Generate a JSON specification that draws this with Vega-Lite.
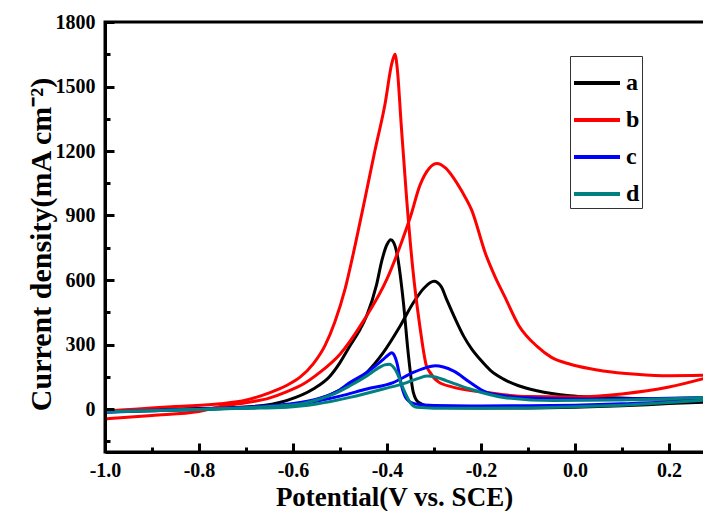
{
  "$schema": "https://vega.github.io/schema/vega-lite/v6.json",
  "width": 600,
  "height": 430,
  "autosize": {"type": "none"},
  "padding": {"left": 105, "top": 22, "right": 0, "bottom": 59},
  "background": "white",
  "config": {
    "view": {"stroke": "black", "strokeWidth": 3},
    "font": "Liberation Serif"
  },
  "datasets": {
    "cv": [
      {"s":"a","b":"f","x":-1.0,"y":-12},{"s":"a","b":"f","x":-0.9,"y":-6},{"s":"a","b":"f","x":-0.8,"y":0},{"s":"a","b":"f","x":-0.7,"y":6},{"s":"a","b":"f","x":-0.65,"y":12},{"s":"a","b":"f","x":-0.6,"y":22},{"s":"a","b":"f","x":-0.55,"y":42},{"s":"a","b":"f","x":-0.5,"y":88},{"s":"a","b":"f","x":-0.443,"y":170},{"s":"a","b":"f","x":-0.408,"y":262},{"s":"a","b":"f","x":-0.372,"y":386},{"s":"a","b":"f","x":-0.344,"y":494},{"s":"a","b":"f","x":-0.32,"y":565},{"s":"a","b":"f","x":-0.3,"y":594},{"s":"a","b":"f","x":-0.285,"y":570},{"s":"a","b":"f","x":-0.273,"y":509},{"s":"a","b":"f","x":-0.255,"y":420},{"s":"a","b":"f","x":-0.237,"y":339},{"s":"a","b":"f","x":-0.22,"y":280},{"s":"a","b":"f","x":-0.202,"y":231},{"s":"a","b":"f","x":-0.18,"y":180},{"s":"a","b":"f","x":-0.152,"y":139},{"s":"a","b":"f","x":-0.12,"y":108},{"s":"a","b":"f","x":-0.081,"y":85},{"s":"a","b":"f","x":-0.011,"y":62},{"s":"a","b":"f","x":0.05,"y":55},{"s":"a","b":"f","x":0.15,"y":48},{"s":"a","b":"f","x":0.28,"y":45},
      {"s":"a","b":"r","x":0.28,"y":32},{"s":"a","b":"r","x":0.2,"y":25},{"s":"a","b":"r","x":0.1,"y":15},{"s":"a","b":"r","x":0.0,"y":8},{"s":"a","b":"r","x":-0.1,"y":5},{"s":"a","b":"r","x":-0.2,"y":5},{"s":"a","b":"r","x":-0.3,"y":8},{"s":"a","b":"r","x":-0.333,"y":31},{"s":"a","b":"r","x":-0.344,"y":77},{"s":"a","b":"r","x":-0.355,"y":262},{"s":"a","b":"r","x":-0.365,"y":494},{"s":"a","b":"r","x":-0.379,"y":725},{"s":"a","b":"r","x":-0.386,"y":775},{"s":"a","b":"r","x":-0.392,"y":787},{"s":"a","b":"r","x":-0.4,"y":765},{"s":"a","b":"r","x":-0.411,"y":690},{"s":"a","b":"r","x":-0.422,"y":580},{"s":"a","b":"r","x":-0.443,"y":435},{"s":"a","b":"r","x":-0.46,"y":360},{"s":"a","b":"r","x":-0.479,"y":293},{"s":"a","b":"r","x":-0.5,"y":216},{"s":"a","b":"r","x":-0.521,"y":154},{"s":"a","b":"r","x":-0.557,"y":93},{"s":"a","b":"r","x":-0.614,"y":39},{"s":"a","b":"r","x":-0.685,"y":12},{"s":"a","b":"r","x":-0.8,"y":2},{"s":"a","b":"r","x":-0.9,"y":-4},{"s":"a","b":"r","x":-1.0,"y":-8},
      {"s":"b","b":"f","x":-1.0,"y":-46},{"s":"b","b":"f","x":-0.9,"y":-30},{"s":"b","b":"f","x":-0.8,"y":-12},{"s":"b","b":"f","x":-0.755,"y":12},{"s":"b","b":"f","x":-0.72,"y":23},{"s":"b","b":"f","x":-0.649,"y":52},{"s":"b","b":"f","x":-0.614,"y":80},{"s":"b","b":"f","x":-0.578,"y":116},{"s":"b","b":"f","x":-0.543,"y":170},{"s":"b","b":"f","x":-0.5,"y":255},{"s":"b","b":"f","x":-0.45,"y":410},{"s":"b","b":"f","x":-0.4,"y":605},{"s":"b","b":"f","x":-0.37,"y":770},{"s":"b","b":"f","x":-0.35,"y":895},{"s":"b","b":"f","x":-0.33,"y":1040},{"s":"b","b":"f","x":-0.31,"y":1120},{"s":"b","b":"f","x":-0.294,"y":1142},{"s":"b","b":"f","x":-0.275,"y":1120},{"s":"b","b":"f","x":-0.26,"y":1080},{"s":"b","b":"f","x":-0.24,"y":1010},{"s":"b","b":"f","x":-0.22,"y":926},{"s":"b","b":"f","x":-0.19,"y":720},{"s":"b","b":"f","x":-0.17,"y":615},{"s":"b","b":"f","x":-0.15,"y":525},{"s":"b","b":"f","x":-0.12,"y":390},{"s":"b","b":"f","x":-0.08,"y":290},{"s":"b","b":"f","x":-0.05,"y":240},{"s":"b","b":"f","x":-0.01,"y":208},{"s":"b","b":"f","x":0.03,"y":188},{"s":"b","b":"f","x":0.06,"y":177},{"s":"b","b":"f","x":0.13,"y":162},{"s":"b","b":"f","x":0.2,"y":155},{"s":"b","b":"f","x":0.28,"y":157},
      {"s":"b","b":"r","x":0.28,"y":145},{"s":"b","b":"r","x":0.2,"y":102},{"s":"b","b":"r","x":0.1,"y":70},{"s":"b","b":"r","x":0.0,"y":56},{"s":"b","b":"r","x":-0.1,"y":58},{"s":"b","b":"r","x":-0.2,"y":80},{"s":"b","b":"r","x":-0.26,"y":102},{"s":"b","b":"r","x":-0.29,"y":125},{"s":"b","b":"r","x":-0.31,"y":175},{"s":"b","b":"r","x":-0.316,"y":200},{"s":"b","b":"r","x":-0.33,"y":384},{"s":"b","b":"r","x":-0.345,"y":650},{"s":"b","b":"r","x":-0.358,"y":972},{"s":"b","b":"r","x":-0.37,"y":1330},{"s":"b","b":"r","x":-0.378,"y":1580},{"s":"b","b":"r","x":-0.383,"y":1650},{"s":"b","b":"r","x":-0.39,"y":1605},{"s":"b","b":"r","x":-0.404,"y":1421},{"s":"b","b":"r","x":-0.426,"y":1199},{"s":"b","b":"r","x":-0.447,"y":977},{"s":"b","b":"r","x":-0.468,"y":760},{"s":"b","b":"r","x":-0.489,"y":560},{"s":"b","b":"r","x":-0.511,"y":405},{"s":"b","b":"r","x":-0.532,"y":295},{"s":"b","b":"r","x":-0.557,"y":210},{"s":"b","b":"r","x":-0.585,"y":148},{"s":"b","b":"r","x":-0.615,"y":108},{"s":"b","b":"r","x":-0.649,"y":76},{"s":"b","b":"r","x":-0.699,"y":42},{"s":"b","b":"r","x":-0.755,"y":24},{"s":"b","b":"r","x":-0.85,"y":12},{"s":"b","b":"r","x":-0.93,"y":0},{"s":"b","b":"r","x":-1.0,"y":-10},
      {"s":"c","b":"f","x":-1.0,"y":-15},{"s":"c","b":"f","x":-0.9,"y":-8},{"s":"c","b":"f","x":-0.8,"y":-2},{"s":"c","b":"f","x":-0.7,"y":5},{"s":"c","b":"f","x":-0.614,"y":10},{"s":"c","b":"f","x":-0.585,"y":22},{"s":"c","b":"f","x":-0.543,"y":39},{"s":"c","b":"f","x":-0.5,"y":60},{"s":"c","b":"f","x":-0.443,"y":93},{"s":"c","b":"f","x":-0.387,"y":123},{"s":"c","b":"f","x":-0.344,"y":170},{"s":"c","b":"f","x":-0.32,"y":190},{"s":"c","b":"f","x":-0.297,"y":201},{"s":"c","b":"f","x":-0.28,"y":195},{"s":"c","b":"f","x":-0.259,"y":177},{"s":"c","b":"f","x":-0.223,"y":123},{"s":"c","b":"f","x":-0.188,"y":77},{"s":"c","b":"f","x":-0.15,"y":62},{"s":"c","b":"f","x":-0.117,"y":54},{"s":"c","b":"f","x":0.025,"y":46},{"s":"c","b":"f","x":0.15,"y":48},{"s":"c","b":"f","x":0.28,"y":54},
      {"s":"c","b":"r","x":0.28,"y":42},{"s":"c","b":"r","x":0.2,"y":32},{"s":"c","b":"r","x":0.1,"y":24},{"s":"c","b":"r","x":0.0,"y":18},{"s":"c","b":"r","x":-0.1,"y":15},{"s":"c","b":"r","x":-0.2,"y":14},{"s":"c","b":"r","x":-0.3,"y":16},{"s":"c","b":"r","x":-0.34,"y":23},{"s":"c","b":"r","x":-0.358,"y":46},{"s":"c","b":"r","x":-0.369,"y":108},{"s":"c","b":"r","x":-0.379,"y":216},{"s":"c","b":"r","x":-0.386,"y":255},{"s":"c","b":"r","x":-0.39,"y":262},{"s":"c","b":"r","x":-0.398,"y":250},{"s":"c","b":"r","x":-0.408,"y":231},{"s":"c","b":"r","x":-0.443,"y":170},{"s":"c","b":"r","x":-0.479,"y":123},{"s":"c","b":"r","x":-0.5,"y":90},{"s":"c","b":"r","x":-0.543,"y":50},{"s":"c","b":"r","x":-0.585,"y":30},{"s":"c","b":"r","x":-0.65,"y":15},{"s":"c","b":"r","x":-0.7,"y":8},{"s":"c","b":"r","x":-0.8,"y":0},{"s":"c","b":"r","x":-0.9,"y":-6},{"s":"c","b":"r","x":-1.0,"y":-14},
      {"s":"d","b":"f","x":-1.0,"y":-14},{"s":"d","b":"f","x":-0.9,"y":-8},{"s":"d","b":"f","x":-0.8,"y":-2},{"s":"d","b":"f","x":-0.7,"y":3},{"s":"d","b":"f","x":-0.614,"y":8},{"s":"d","b":"f","x":-0.55,"y":23},{"s":"d","b":"f","x":-0.479,"y":54},{"s":"d","b":"f","x":-0.408,"y":93},{"s":"d","b":"f","x":-0.358,"y":123},{"s":"d","b":"f","x":-0.33,"y":145},{"s":"d","b":"f","x":-0.315,"y":154},{"s":"d","b":"f","x":-0.295,"y":148},{"s":"d","b":"f","x":-0.273,"y":131},{"s":"d","b":"f","x":-0.223,"y":93},{"s":"d","b":"f","x":-0.152,"y":54},{"s":"d","b":"f","x":-0.046,"y":39},{"s":"d","b":"f","x":0.1,"y":42},{"s":"d","b":"f","x":0.2,"y":48},{"s":"d","b":"f","x":0.28,"y":54},
      {"s":"d","b":"r","x":0.28,"y":42},{"s":"d","b":"r","x":0.2,"y":30},{"s":"d","b":"r","x":0.1,"y":18},{"s":"d","b":"r","x":0.0,"y":10},{"s":"d","b":"r","x":-0.1,"y":5},{"s":"d","b":"r","x":-0.2,"y":3},{"s":"d","b":"r","x":-0.3,"y":4},{"s":"d","b":"r","x":-0.337,"y":8},{"s":"d","b":"r","x":-0.351,"y":31},{"s":"d","b":"r","x":-0.365,"y":93},{"s":"d","b":"r","x":-0.379,"y":170},{"s":"d","b":"r","x":-0.39,"y":203},{"s":"d","b":"r","x":-0.395,"y":208},{"s":"d","b":"r","x":-0.405,"y":205},{"s":"d","b":"r","x":-0.415,"y":195},{"s":"d","b":"r","x":-0.443,"y":154},{"s":"d","b":"r","x":-0.479,"y":108},{"s":"d","b":"r","x":-0.514,"y":69},{"s":"d","b":"r","x":-0.55,"y":42},{"s":"d","b":"r","x":-0.585,"y":23},{"s":"d","b":"r","x":-0.65,"y":12},{"s":"d","b":"r","x":-0.7,"y":6},{"s":"d","b":"r","x":-0.8,"y":-2},{"s":"d","b":"r","x":-0.9,"y":-8},{"s":"d","b":"r","x":-1.0,"y":-12}
    ]
  },
  "data": {"name": "cv"},
  "mark": {"type": "line", "strokeWidth": 3, "clip": true, "strokeJoin": "round", "interpolate": "monotone"},
  "encoding": {
    "x": {
      "field": "x", "type": "quantitative",
      "scale": {"domain": [-1.0, 0.2766], "nice": false, "zero": false},
      "axis": {
        "title": "Potential(V vs. SCE)",
        "values": [-1.0, -0.9, -0.8, -0.7, -0.6, -0.5, -0.4, -0.3, -0.2, -0.1, 0.0, 0.1, 0.2],
        "labelExpr": "round(datum.value*10) % 2 === 0 ? replace(format(datum.value, '.1f'), '−', '-') : ''",
        "labelOverlap": false, "labelFlush": false,
        "domainColor": "black", "domainWidth": 3, "zindex": 1,
        "tickColor": "black", "tickWidth": 3,
        "tickSize": {"condition": {"test": "round(datum.value*10) % 2 === 0", "value": -9}, "value": -5},
        "labelFont": "Liberation Serif", "labelFontWeight": "bold", "labelFontSize": 20, "labelColor": "black",
        "labelPadding": 33, "labelBaseline": "alphabetic",
        "titleFont": "Liberation Serif", "titleFontWeight": "bold", "titleFontSize": 27, "titleColor": "black",
        "titleX": 289, "titleY": 53, "titleBaseline": "alphabetic", "titleAlign": "center",
        "grid": false
      }
    },
    "y": {
      "field": "y", "type": "quantitative",
      "scale": {"domain": [-200, 1800], "nice": false, "zero": false},
      "axis": {
        "title": "Current density(mA cm⁻²)",
        "values": [-150, 0, 150, 300, 450, 600, 750, 900, 1050, 1200, 1350, 1500, 1650, 1800],
        "labelExpr": "datum.value % 300 === 0 ? datum.value + '' : ''",
        "labelOverlap": false, "labelFlush": false,
        "domainColor": "black", "domainWidth": 3, "zindex": 1,
        "tickColor": "black", "tickWidth": 3,
        "tickSize": {"condition": {"test": "datum.value % 300 === 0", "value": -9}, "value": -5},
        "labelFont": "Liberation Serif", "labelFontWeight": "bold", "labelFontSize": 20, "labelColor": "black",
        "labelPadding": 19,
        "titleFont": "Liberation Serif", "titleFontWeight": "bold", "titleFontSize": 30, "titleColor": "black",
        "titleX": -55, "titleY": 222, "titleBaseline": "alphabetic", "titleAngle": -90, "titleAlign": "center",
        "grid": false
      }
    },
    "color": {
      "field": "s", "type": "nominal",
      "scale": {"domain": ["a", "b", "c", "d"], "range": ["#000000", "#ff0000", "#0000ff", "#008080"]},
      "legend": {
        "title": null, "orient": "none", "legendX": 465, "legendY": 34,
        "symbolType": "stroke", "symbolSize": 2116, "symbolStrokeWidth": 4,
        "labelFont": "Liberation Serif", "labelFontWeight": "bold", "labelFontSize": 24, "labelColor": "black",
        "strokeColor": "#333333", "padding": 2, "rowPadding": -8, "labelOffset": 4
      }
    },
    "detail": {"field": "b", "type": "nominal"}
  }
}
